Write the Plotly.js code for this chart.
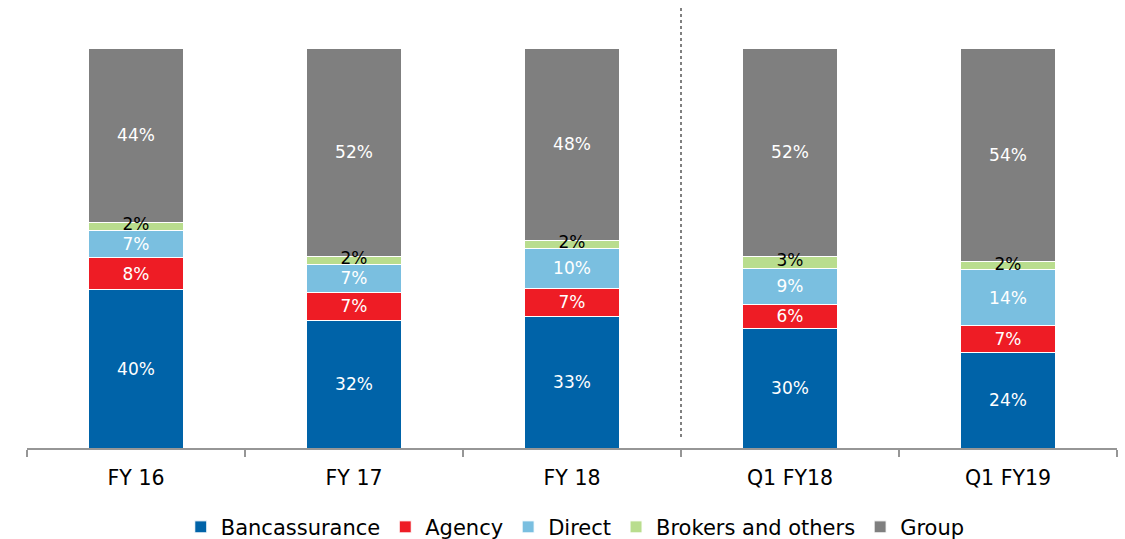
<!DOCTYPE html>
<html><head><meta charset="utf-8">
<script src="https://cdn.plot.ly/plotly-3.0.1.min.js"></script>
<style>html,body{margin:0;padding:0;background:#fff}#chart{width:1125px;height:539px}</style>
</head><body><div id="chart"></div>
<script>
const categories = ['FY 16', 'FY 17', 'FY 18', 'Q1 FY18', 'Q1 FY19'];
const bancassurance = [40, 32, 33, 30, 24];
const agency = [8, 7, 7, 6, 7];
const direct = [7, 7, 10, 9, 14];
const brokers = [2, 2, 2, 3, 2];
const group = [44, 52, 48, 52, 54];

const series = [
  {name: 'Bancassurance', y: bancassurance, color: '#0063A8', tc: '#ffffff'},
  {name: 'Agency', y: agency, color: '#EE1C25', tc: '#ffffff'},
  {name: 'Direct', y: direct, color: '#7ABFE0', tc: '#ffffff'},
  {name: 'Brokers and others', y: brokers, color: '#B9DD8E', tc: '#000000', overlay: true},
  {name: 'Group', y: group, color: '#7F7F7F', tc: '#ffffff'}
];

const FONT = 'DejaVu Sans, Verdana, sans-serif';
const data = series.map(s => ({
  type: 'bar', name: s.name, x: categories, y: s.y,
  marker: {color: s.color, line: {color: '#ffffff', width: 1}},
  text: s.y.map(v => v + '%'), texttemplate: '%{text}',
  textposition: s.overlay ? 'none' : 'inside', insidetextanchor: 'middle', constraintext: 'none',
  textfont: {family: FONT, size: 17, color: s.tc},
  hoverinfo: 'skip'
}));

// Brokers labels drawn on top of the stack (centre of the normalised segment)
const brokersMid = categories.map((c, i) => {
  const total = bancassurance[i] + agency[i] + direct[i] + brokers[i] + group[i];
  return (bancassurance[i] + agency[i] + direct[i] + brokers[i] / 2) / total * 100;
});
data.push({
  type: 'scatter', mode: 'text', x: categories, y: brokersMid,
  text: brokers.map(v => v + '%'), textposition: 'middle center',
  textfont: {family: FONT, size: 17, color: '#000000'},
  showlegend: false, hoverinfo: 'skip', cliponaxis: false
});

const layout = {
  width: 1125, height: 539,
  margin: {l: 27, r: 8, t: 48, b: 91, autoexpand: false},
  barmode: 'stack', barnorm: 'percent', bargap: 0.565,
  paper_bgcolor: '#ffffff', plot_bgcolor: '#ffffff',
  font: {family: FONT, size: 20, color: '#000000'},
  xaxis: {
    type: 'category', showline: true, linecolor: '#969696', linewidth: 2,
    ticks: 'outside', tickson: 'boundaries', ticklen: 7, tickwidth: 2, tickcolor: '#969696',
    ticklabelstandoff: 10,
    tickfont: {size: 20.5, color: '#000000'}, showgrid: false, zeroline: false, automargin: false
  },
  yaxis: {range: [0, 100], visible: false, showgrid: false, zeroline: false, fixedrange: true},
  legend: {orientation: 'h', x: 0.503, xanchor: 'center', y: -0.198, yanchor: 'middle',
    font: {size: 21, color: '#000000'}, traceorder: 'normal', itemwidth: 30, tracegroupgap: 0},
  shapes: [{type: 'line', xref: 'x', yref: 'paper', x0: 2.5, x1: 2.5, y0: 0.0275, y1: 1.1025,
    line: {color: '#808080', width: 2, dash: 'dot'}}],
  showlegend: true
};

Plotly.newPlot('chart', data, layout, {displayModeBar: false, staticPlot: true});
</script></body></html>
